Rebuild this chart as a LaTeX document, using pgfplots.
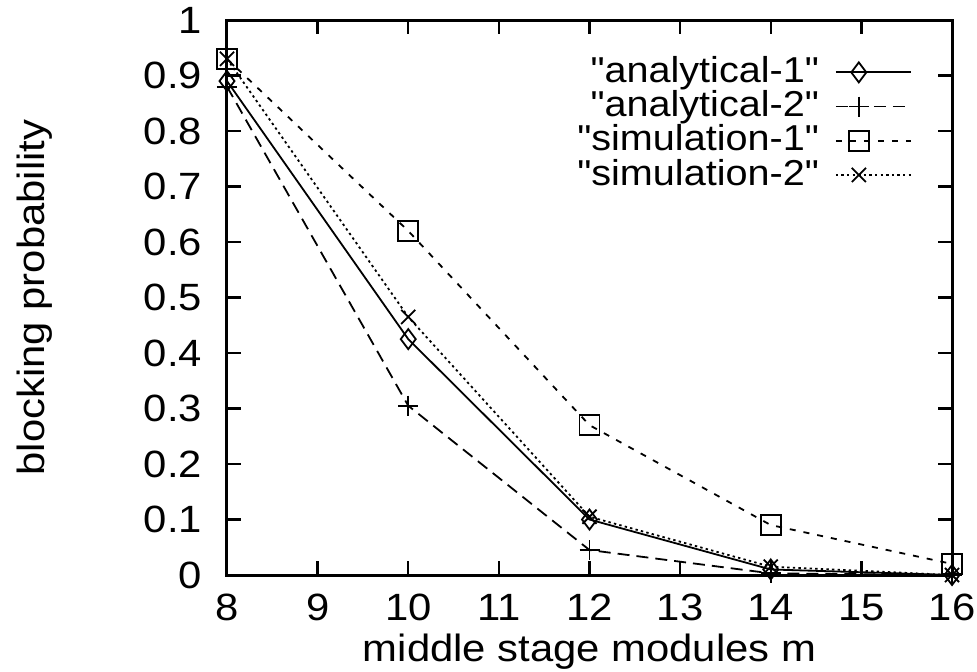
\documentclass[border=0pt]{standalone}
\usepackage{pgfplots}
\pgfplotsset{compat=1.18}
\usepackage{fontspec}
\setmainfont{Liberation Sans}[Ligatures=TeXOff, FakeStretch=1.1]
\begin{document}
\fontsize{19}{22}\selectfont
\begin{tikzpicture}
\begin{axis}[
  name=ax,
  scale only axis,
  width=362.5pt, height=277.5pt,
  xmin=8, xmax=16, ymin=0, ymax=1,
  xtick={8,9,...,16},
  ytick={0,0.1,...,1.0},
  yticklabels={0,0.1,0.2,0.3,0.4,0.5,0.6,0.7,0.8,0.9,1},
  tick align=inside,
  major tick length=7pt,
  axis line style={line width=1.5pt},
  every tick/.style={line width=1.2pt, black},
  /pgf/number format/assume math mode=true,
  tick label style={font=\fontsize{19}{22}\selectfont},
  xticklabel style={yshift=-3pt},
  yticklabel style={xshift=-6pt},
  xlabel={middle stage modules m},
  ylabel={blocking probability},
  xlabel style={at={(rel axis cs:0.5,0)}, anchor=center, yshift=-38.5pt, font=\fontsize{19}{22}\selectfont},
  ylabel style={at={(rel axis cs:0,0.5)}, anchor=center, yshift=96pt, font=\fontsize{19}{22}\selectfont},
  legend style={draw=none, fill=none, at={(rel axis cs:0.945,0.935)}, anchor=north east,
    font=\fontsize{18}{18}\selectfont, row sep=1.2pt, inner sep=0pt,
    nodes={inner sep=0pt},
    /tikz/every odd column/.append style={column sep=8pt}},
  legend cell align=right,
  legend plot pos=right,
  legend image code/.code={\draw[mark repeat=2,mark phase=2] plot coordinates {(0pt,0pt) (11.5pt,0pt) (37.5pt,0pt)};},
  every axis plot/.append style={line width=0.9pt},
  clip=false,
]
\addplot[black, solid, mark=diamond, mark size=5pt, mark options={solid}] coordinates {(8,0.89) (10,0.425) (12,0.10) (14,0.01) (16,0.0)};
\addlegendentry{"analytical-1"}
\addplot[black, dash pattern=on 6pt off 3.5pt, mark=+, mark size=5pt, mark options={solid}] coordinates {(8,0.88) (10,0.305) (12,0.045) (14,0.003) (16,0.0)};
\addlegendentry{"analytical-2"}
\addplot[black, dash pattern=on 3pt off 4pt, mark=square, mark size=5pt, mark options={solid}] coordinates {(8,0.93) (10,0.62) (12,0.27) (14,0.09) (16,0.02)};
\addlegendentry{"simulation-1"}
\addplot[black, dash pattern=on 1.2pt off 1.6pt, mark=x, mark size=5pt, mark options={solid}] coordinates {(8,0.93) (10,0.465) (12,0.105) (14,0.015) (16,0.0)};
\addlegendentry{"simulation-2"}
\end{axis}
\pgfresetboundingbox
\path[use as bounding box] ([shift={(-113.5pt,-48pt)}]ax.south west) rectangle ([shift={(12.5pt,10pt)}]ax.north east);
\end{tikzpicture}
\end{document}
